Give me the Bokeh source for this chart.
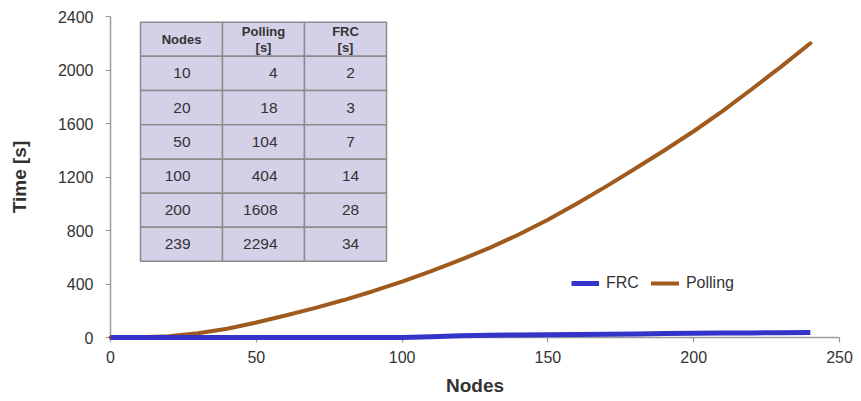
from bokeh.plotting import figure
from bokeh.models import Legend, ColumnDataSource
from bokeh.core.properties import value
from bokeh.embed import file_html
from bokeh.resources import INLINE

# ---- data ----
nodes = [0, 10, 20, 30, 40, 50, 60, 70, 80, 90, 100, 110, 120, 130, 140, 150,
         160, 170, 180, 190, 200, 210, 220, 230, 240]
polling = [0, 2, 10, 32, 66, 112, 164, 220, 280, 346, 418, 496, 580, 670, 770, 880,
           1002, 1130, 1263, 1400, 1542, 1695, 1858, 2025, 2200]
frc = [0, 0, 0, 0, 0, 0, 0, 0, 0, 0, 0, 6, 13, 16, 19, 21,
       23, 25, 27, 29, 31, 33, 34, 36, 37]

x_ticks = [0, 50, 100, 150, 200, 250]
y_ticks = [0, 400, 800, 1200, 1600, 2000, 2400]
x_title = "Nodes"
y_title = "Time [s]"

table_header = ["Nodes", "Polling\n[s]", "FRC\n[s]"]
table_nodes = [10, 20, 50, 100, 200, 239]
table_polling = [4, 18, 104, 404, 1608, 2294]
table_frc = [2, 3, 7, 14, 28, 34]

# ---- layout ----
W, H = 861, 401
BL, BR, BT, BB = 110, 22, 16, 64
X0, X1, Y0, Y1 = 0, 250, 0, 2400
FW, FH = W - BL - BR, H - BT - BB

def dx(px):
    return (px - BL) / FW * (X1 - X0) + X0

def dy(py):
    return (BT + FH - py) / FH * (Y1 - Y0) + Y0

BLUE = "#3434c8"
BROWN = "#a05a1e"
TXT = "#333333"

p = figure(width=W, height=H, x_range=(X0, X1), y_range=(Y0, Y1),
           min_border_left=BL, min_border_right=BR, min_border_top=BT,
           min_border_bottom=BB, output_backend="svg", toolbar_location=None)
p.outline_line_color = None
p.xgrid.visible = False
p.ygrid.visible = False
p.background_fill_color = "white"
p.border_fill_color = "white"

for ax in (p.xaxis[0], p.yaxis[0]):
    ax.axis_line_color = "#9a9a9a"
    ax.axis_line_width = 1.5
    ax.major_tick_line_color = "#9a9a9a"
    ax.major_tick_line_width = 1.2
    ax.major_tick_in = 0
    ax.major_tick_out = 5
    ax.minor_tick_line_color = None
    ax.major_label_text_font = "Liberation Sans"
    ax.major_label_text_font_size = "16px"
    ax.major_label_text_color = TXT
    ax.axis_label_text_font = "Liberation Sans"
    ax.axis_label_text_font_style = "bold"
    ax.axis_label_text_font_size = "19px"
    ax.axis_label_text_color = TXT

p.xaxis.ticker = x_ticks
p.yaxis.ticker = y_ticks
p.xaxis.axis_label = x_title
p.yaxis.axis_label = y_title
p.xaxis.major_label_standoff = 8
p.yaxis.major_label_standoff = 12
p.xaxis.axis_label_standoff = 9
p.yaxis.axis_label_standoff = 25

# ---- table (drawn in data space from pixel layout) ----
col_px = [140, 222, 304, 386]
row_px = [21.7, 55.7, 90, 124.3, 158.7, 192.7, 226.7, 260.7]
left, right, top, bottom = [], [], [], []
for r in range(len(row_px) - 1):
    for c in range(len(col_px) - 1):
        left.append(dx(col_px[c])); right.append(dx(col_px[c + 1]))
        top.append(dy(row_px[r])); bottom.append(dy(row_px[r + 1]))
p.quad(left=left, right=right, top=top, bottom=bottom,
       fill_color="#d3d0e8", line_color="#8c8c8c", line_width=1.5)

# header
hx = [dx((col_px[i] + col_px[i + 1]) / 2) for i in range(3)]
hy = [dy((row_px[0] + row_px[1]) / 2)] * 3
p.text(x=hx, y=hy, text=table_header, text_align="center", text_baseline="middle",
       text_font=value("Liberation Sans"), text_font_style="bold",
       text_font_size="13px", text_color=TXT, text_line_height=1.05)

# body
ry = [dy((row_px[i + 1] + row_px[i + 2]) / 2) for i in range(len(table_nodes))]
common = dict(text_baseline="middle", text_font=value("Liberation Sans"),
              text_font_size="15.5px", text_color=TXT)
p.text(x=[dx(190)] * len(ry), y=ry, text=[str(v) for v in table_nodes],
       text_align="right", **common)
p.text(x=[dx(277)] * len(ry), y=ry, text=[str(v) for v in table_polling],
       text_align="right", **common)
p.text(x=[dx(350)] * len(ry), y=ry, text=[str(v) for v in table_frc],
       text_align="center", **common)

# ---- series ----
src = ColumnDataSource(dict(n=nodes, polling=polling, frc=frc))
r_poll = p.line("n", "polling", source=src, line_color=BROWN, line_width=4,
                line_join="round", line_cap="round", level="overlay")
r_frc = p.line("n", "frc", source=src, line_color=BLUE, line_width=5,
               line_join="round", line_cap="butt", level="overlay")

legend = Legend(items=[("FRC", [r_frc]), ("Polling", [r_poll])],
                orientation="horizontal", location=(461, 44),
                padding=0, margin=0, spacing=12, glyph_width=28, glyph_height=20,
                label_standoff=7, border_line_color=None, background_fill_alpha=0,
                label_text_font="Liberation Sans", label_text_font_size="16px",
                label_text_color=TXT)
p.add_layout(legend, "center")

open("out.html", "w").write(file_html(p, INLINE))
